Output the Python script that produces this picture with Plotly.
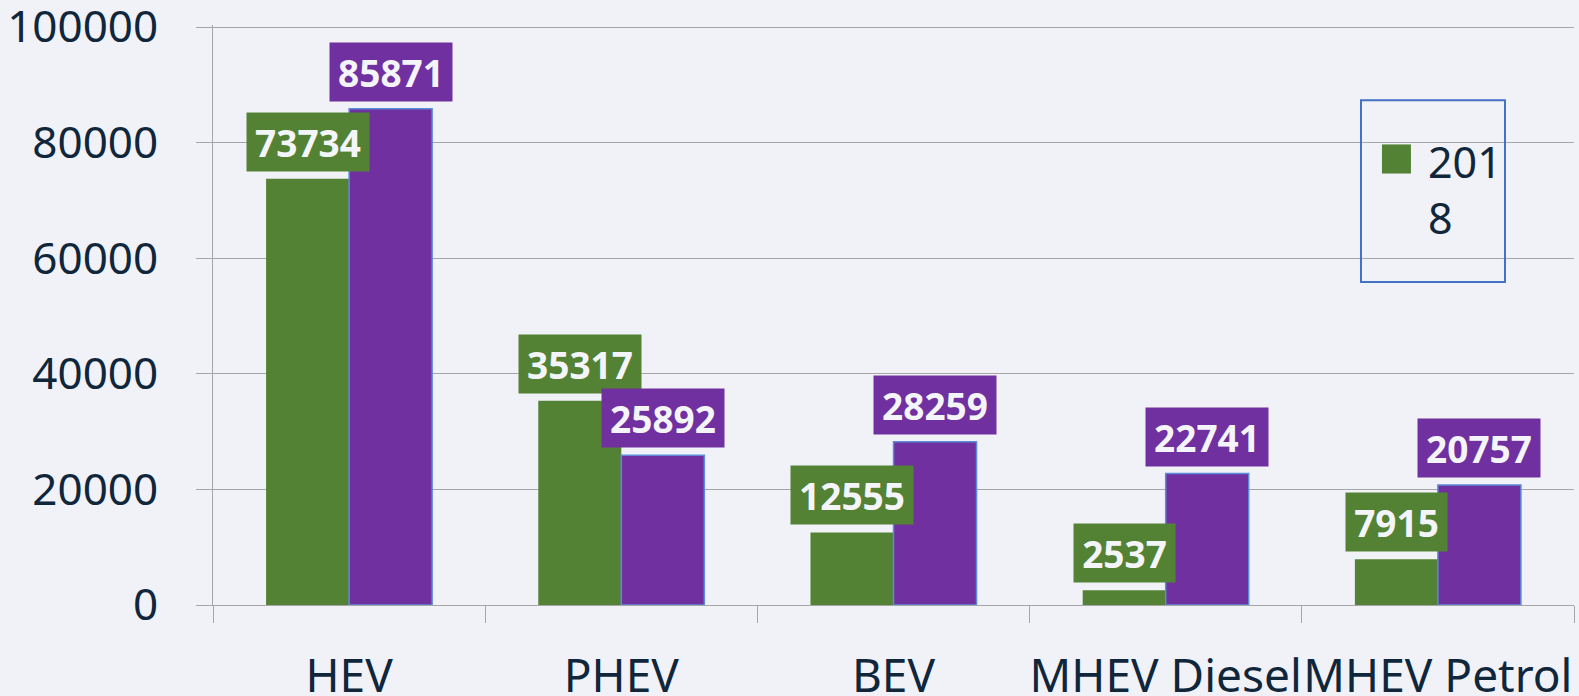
import plotly.graph_objects as go

categories = ["HEV", "PHEV", "BEV", "MHEV Diesel", "MHEV Petrol"]
series_names = ["2018", "2019"]
values_2018 = [73734, 35317, 12555, 2537, 7915]
values_2019 = [85871, 25892, 28259, 22741, 20757]
y_ticks = [0, 20000, 40000, 60000, 80000, 100000]
y_tick_labels = ["0", "20000", "40000", "60000", "80000", "100000"]

GREEN = "#548235"
PURPLE = "#7030A0"
BG = "#F0F2F8"
TXT = "#10263B"
GRID = "#A6A6A6"
FONT = "Noto Sans"

fig = go.Figure()
fig.add_trace(go.Bar(x=categories, y=values_2018, name=series_names[0],
                     marker=dict(color=GREEN, line=dict(width=0)), showlegend=False))
fig.add_trace(go.Bar(x=categories, y=values_2019, name=series_names[1],
                     marker=dict(color=PURPLE, line=dict(color="#5B8BD9", width=1.5)),
                     showlegend=False))

bargap = 0.39
off = (1 - bargap) / 4
annotations = []
for i, (a, b) in enumerate(zip(values_2018, values_2019)):
    for val, dx, col in ((a, -off, GREEN), (b, off, PURPLE)):
        annotations.append(dict(
            x=i + dx, y=val, xref="x", yref="y", text=f"<b>{val}</b>",
            showarrow=False, yanchor="bottom", xanchor="center", yshift=7,
            bgcolor=col, borderpad=6, width=len(str(val)) * 21 + 5, height=46,
            font=dict(family=FONT, size=37, color="#F4F5FA")))

# legend (drawn manually to match the wrapped box)
annotations.append(dict(x=0.8913, y=0.7171, xref="paper", yref="paper",
                        text="201<br>8", showarrow=False, xanchor="left", yanchor="middle",
                        align="left", font=dict(family=FONT, size=43, color=TXT)))
shapes = [
    dict(type="rect", xref="paper", yref="paper", x0=0.8435, x1=0.9493, y0=0.5571, y1=0.8702,
         line=dict(color="#4472C4", width=2), fillcolor="rgba(0,0,0,0)", layer="above"),
    dict(type="rect", xref="paper", yref="paper", x0=0.8589, x1=0.8802, y0=0.7439, y1=0.7941,
         line=dict(width=0), fillcolor=GREEN, layer="above"),
]

fig.update_layout(
    width=1579, height=696,
    barmode="group", bargap=bargap, bargroupgap=0,
    paper_bgcolor=BG, plot_bgcolor=BG,
    margin=dict(l=213, r=5, t=25, b=91, autoexpand=False),
    annotations=annotations, shapes=shapes,
    showlegend=False,
    font=dict(family=FONT, color=TXT),
)
fig.update_xaxes(type="category", tickson="boundaries", ticks="outside", ticklen=17,
                 tickcolor=GRID, tickwidth=1, showline=True, linecolor=GRID, linewidth=1,
                 showgrid=False, tickfont=dict(family=FONT, size=46, color=TXT),
                 tickangle=0, automargin=False, ticklabelstandoff=31,
                 ticklabeloverflow="allow")
fig.update_yaxes(range=[0, 100346], tickvals=y_ticks, ticktext=y_tick_labels,
                 ticks="outside", ticklen=16, automargin=False,
                 tickcolor=GRID, showline=True, linecolor=GRID, linewidth=1,
                 gridcolor=GRID, gridwidth=1, zeroline=False,
                 tickfont=dict(family=FONT, size=44, color=TXT), ticklabelstandoff=29,
                 ticklabeloverflow="allow")

fig.write_html("out.html", config={"displayModeBar": False},
               post_script="document.body.style.margin='0';"
                           "document.body.style.background='" + BG + "';")
